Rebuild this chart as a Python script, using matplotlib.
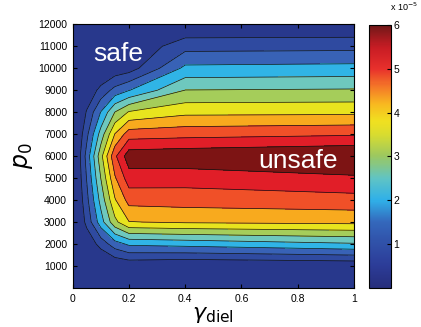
import numpy as np
import matplotlib.pyplot as plt
from matplotlib.colors import LinearSegmentedColormap, Normalize
from matplotlib.cm import ScalarMappable

plt.rcParams['font.family'] = ['Liberation Sans', 'DejaVu Sans']

# grid (values in units of 1e-5)
gamma = [0.0, 0.05, 0.1, 0.15, 0.2, 0.4, 1.0]
p0 = [0, 1000, 2000, 3000, 4000, 5000, 6000, 7000, 8000, 9000, 10000, 11000, 12000]
z_rows = [
    [0.00, 0.03, 0.06, 0.08, 0.10, 0.10, 0.10],
    [0.02, 0.17, 0.34, 0.51, 0.60, 0.50, 0.57],
    [0.10, 0.61, 1.19, 1.77, 2.09, 2.17, 2.44],
    [0.15, 1.15, 2.27, 3.36, 3.98, 4.06, 4.13],
    [0.18, 1.36, 2.67, 3.95, 4.68, 4.72, 4.81],
    [0.20, 1.53, 3.01, 4.44, 5.26, 5.22, 5.42],
    [0.20, 1.68, 3.33, 4.90, 5.80, 5.86, 6.03],
    [0.18, 1.38, 2.71, 4.02, 4.76, 4.83, 4.94],
    [0.15, 1.05, 2.02, 3.01, 3.55, 3.87, 3.89],
    [0.10, 0.60, 1.16, 1.67, 1.98, 3.01, 3.05],
    [0.05, 0.22, 0.43, 0.64, 0.76, 2.12, 2.17],
    [0.03, 0.16, 0.31, 0.46, 0.55, 1.31, 1.34],
    [0.02, 0.12, 0.23, 0.34, 0.40, 0.50, 0.51],
]
levels = [0.0, 1.0, 1.5, 2.0, 2.5, 3.0, 3.5, 4.0, 4.5, 5.0, 5.5, 7.0]
band_colors = ['#28388c', '#2f4aa0', '#3862b6', '#30b4e6', '#6ec8be', '#a5cd5a',
               '#e8e41e', '#f8aa1e', '#f05028', '#e11e28', '#7d1414']
cbar_stops = [0.0, 0.5, 1.0, 1.5, 2.0, 2.5, 3.0, 3.5, 3.8, 4.2, 4.6, 5.0, 5.5, 6.0]
cbar_colors = ['#262e7c', '#2c3c98', '#3050a8', '#3468bc', '#30b0e8', '#60c4c4',
               '#9cc860', '#d8dc30', '#f0e020', '#f8b820', '#f47828', '#e8302c',
               '#c81c24', '#701818']

scale = 1e-5
Z = np.array(z_rows) * scale
lev = np.array(levels) * scale

fig = plt.figure(figsize=(4.21, 3.27), dpi=100)
ax = fig.add_axes([0.1727, 0.1193, 0.6682, 0.8064])
ax.contourf(gamma, p0, Z, levels=lev, colors=band_colors)
ax.contour(gamma, p0, Z, levels=lev[1:-1], colors='#111111', linewidths=0.5)

ax.set_xlim(0, 1)
ax.set_ylim(0, 12000)
ax.set_xticks([0, 0.2, 0.4, 0.6, 0.8, 1])
ax.set_xticklabels(['0', '0.2', '0.4', '0.6', '0.8', '1'])
ax.set_yticks(range(1000, 12001, 1000))
ax.tick_params(direction='in', top=True, right=True, length=3, labelsize=7.5, pad=4)
ax.set_xlabel(r'$\gamma_{\rm diel}$', fontsize=16, labelpad=0)
ax.set_ylabel(r'$p_0$', fontsize=17, labelpad=2)

ax.text(0.161, 10636, 'safe', color='white', fontsize=19, ha='center', va='center')
ax.text(0.80, 5773, 'unsafe', color='white', fontsize=19, ha='center', va='center')

stops = [s / cbar_stops[-1] for s in cbar_stops]
cmap = LinearSegmentedColormap.from_list('washed_jet', list(zip(stops, cbar_colors)))
cax = fig.add_axes([0.8765, 0.1202, 0.0515, 0.8033])
sm = ScalarMappable(norm=Normalize(0, 6e-5), cmap=cmap)
cb = fig.colorbar(sm, cax=cax)
cb.set_ticks([1e-5, 2e-5, 3e-5, 4e-5, 5e-5, 6e-5])
cb.set_ticklabels(['1', '2', '3', '4', '5', '6'])
cax.tick_params(direction='in', length=3, labelsize=7.5, pad=2)
cax.text(0.95, 1.045, r'x 10$^{-5}$', transform=cax.transAxes, fontsize=6.5, va='bottom', ha='left')

fig.savefig('out.png', dpi=100)
